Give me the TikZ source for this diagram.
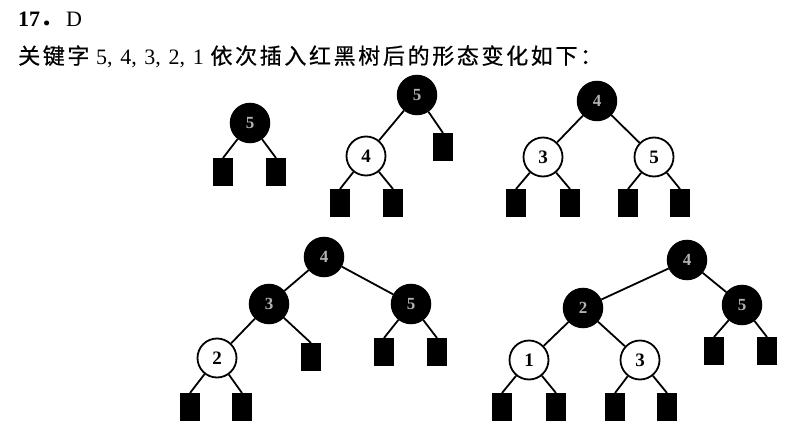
\documentclass[tikz,border=0pt]{standalone}
\usepackage{fontspec}
\setmainfont{Liberation Serif}
\newfontfamily\cjk[LetterSpace=12,FakeBold=0.6]{Noto Sans CJK SC}
\newfontfamily\cjkdot{Noto Sans CJK SC}
\begin{document}
\begin{tikzpicture}[x=1pt,y=-1pt,
  bnode/.style={circle,fill=black,draw=black,line width=1.5pt,minimum size=39pt,inner sep=0pt,
    text=white!70!black,font=\fontsize{17}{17}\selectfont\bfseries},
  wnode/.style={circle,fill=white,draw=black,line width=1.8pt,minimum size=39pt,inner sep=0pt,
    text=black,font=\fontsize{19}{19}\selectfont\bfseries},
  leaf/.style={rectangle,fill=black,draw=black,line width=1pt,minimum width=19pt,minimum height=27pt,inner sep=0pt},
  edge/.style={draw=black,line width=1.8pt}]
\useasboundingbox (0,0) rectangle (793,439);
% header
\node[anchor=base west,inner sep=0pt,font=\fontsize{22}{22}\selectfont] (title) at (18,26) {\textbf{17}{\cjkdot\bfseries ．}\hspace{4pt}D};
\node[anchor=base west,inner sep=0pt,font=\fontsize{22}{22}\selectfont] (line) at (18,64)
  {{\cjk 关键字}\hspace{0.3em}5,\hspace{0.1em} 4,\hspace{0.1em} 3,\hspace{0.1em} 2,\hspace{0.1em} 1\hspace{0.3em}{\cjk 依次插入红黑树后的形态变化如下：}};
% tree 1
\node[bnode] (a5) at (250,123) {5};
\node[leaf] (a1) at (223,172) {};
\node[leaf] (a2) at (276,172) {};
% tree 2
\node[bnode] (b5) at (417,95) {5};
\node[wnode] (b4) at (366,156) {4};
\node[leaf] (b3) at (443,147) {};
\node[leaf] (b1) at (340,203) {};
\node[leaf] (b2) at (393,203) {};
% tree 3
\node[bnode] (c4) at (597,101) {4};
\node[wnode] (c3) at (543,157) {3};
\node[wnode] (c5) at (654,157) {5};
\node[leaf] (c1) at (516,203) {};
\node[leaf] (c2) at (570,203) {};
\node[leaf] (c6) at (628,203) {};
\node[leaf] (c7) at (680,203) {};
% tree 4
\node[bnode] (d4) at (324,257) {4};
\node[bnode] (d3) at (269,304) {3};
\node[bnode] (d5) at (411,304) {5};
\node[wnode] (d2) at (217,358) {2};
\node[leaf] (d6) at (311,357) {};
\node[leaf] (d7) at (384,352) {};
\node[leaf] (d8) at (437,352) {};
\node[leaf] (d1) at (190,407) {};
\node[leaf] (d9) at (242,407) {};
% tree 5
\node[bnode] (e4) at (687,260) {4};
\node[bnode] (e2) at (583,308) {2};
\node[bnode] (e5) at (742,305) {5};
\node[wnode] (e1) at (529,360) {1};
\node[wnode] (e3) at (640,360) {3};
\node[leaf] (e6) at (714,351) {};
\node[leaf] (e7) at (767,351) {};
\node[leaf] (e8) at (502,407) {};
\node[leaf] (e9) at (556,407) {};
\node[leaf] (e10) at (615,407) {};
\node[leaf] (e11) at (667,407) {};
% edges
\draw[edge] (a5) -- (a1.north); \draw[edge] (a5) -- (a2.north);
\draw[edge] (b5) -- (b4); \draw[edge] (b5) -- (b3.north);
\draw[edge] (b4) -- (b1.north); \draw[edge] (b4) -- (b2.north);
\draw[edge] (c4) -- (c3); \draw[edge] (c4) -- (c5);
\draw[edge] (c3) -- (c1.north); \draw[edge] (c3) -- (c2.north);
\draw[edge] (c5) -- (c6.north); \draw[edge] (c5) -- (c7.north);
\draw[edge] (d4) -- (d3); \draw[edge] (d4) -- (d5);
\draw[edge] (d3) -- (d2); \draw[edge] (d3) -- (d6.north);
\draw[edge] (d5) -- (d7.north); \draw[edge] (d5) -- (d8.north);
\draw[edge] (d2) -- (d1.north); \draw[edge] (d2) -- (d9.north);
\draw[edge] (e4) -- (e2); \draw[edge] (e4) -- (e5);
\draw[edge] (e2) -- (e1); \draw[edge] (e2) -- (e3);
\draw[edge] (e5) -- (e6.north); \draw[edge] (e5) -- (e7.north);
\draw[edge] (e1) -- (e8.north); \draw[edge] (e1) -- (e9.north);
\draw[edge] (e3) -- (e10.north); \draw[edge] (e3) -- (e11.north);
\end{tikzpicture}
\end{document}
